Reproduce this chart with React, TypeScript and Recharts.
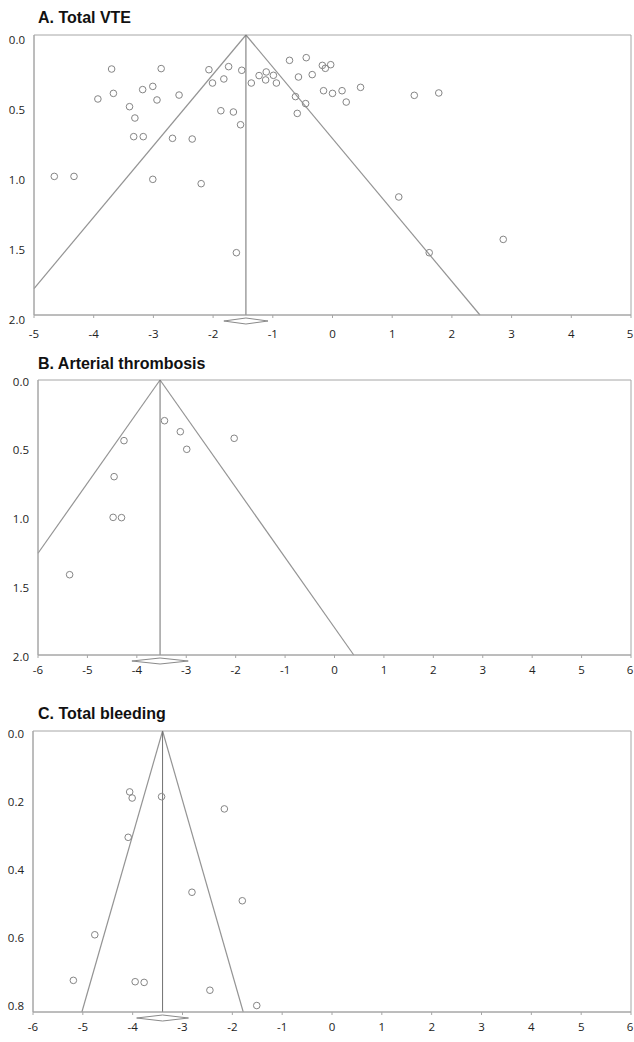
import React from "react";
import {
  ScatterChart,
  Scatter,
  XAxis,
  YAxis,
  ReferenceLine,
  ReferenceArea,
} from "recharts";

// ---- A. Total VTE: effect (log OR) and standard error per study ----
const vteEffect = [
  -4.66, -4.33, -3.93, -3.7, -3.67, -3.4, -3.31, -3.33, -3.17, -3.18, -3.01, -2.94,
  -2.87, -3.01, -2.57, -2.68, -2.35, -2.2, -2.07, -2.01, -1.87, -1.82, -1.74, -1.66,
  -1.61, -1.54, -1.52, -1.36, -1.23, -1.11, -1.12, -0.99, -0.94, -0.72, -0.57, -0.44,
  -0.34, -0.62, -0.45, -0.59, -0.17, -0.12, -0.03, -0.15, 0.0, 0.16, 0.47, 0.23,
  1.37, 1.78, 1.11, 1.62, 2.86,
];
const vteSE = [
  1.01, 1.01, 0.457, 0.243, 0.417, 0.512, 0.593, 0.726, 0.726, 0.39, 0.367, 0.464,
  0.24, 1.031, 0.429, 0.738, 0.743, 1.062, 0.248, 0.343, 0.541, 0.314, 0.226, 0.55,
  1.555, 0.641, 0.252, 0.343, 0.29, 0.264, 0.321, 0.288, 0.343, 0.181, 0.3, 0.162,
  0.283, 0.44, 0.49, 0.56, 0.217, 0.238, 0.212, 0.398, 0.417, 0.398, 0.374, 0.479,
  0.431, 0.414, 1.157, 1.555, 1.46,
];
const vtePooled = -1.45;
const vteCI = [-1.82, -1.08];
const vteXTicks = [-5, -4, -3, -2, -1, 0, 1, 2, 3, 4, 5];
const vteYTicks = [0, 0.5, 1, 1.5, 2];

// ---- B. Arterial thrombosis ----
const arterialEffect = [-3.44, -3.12, -2.99, -2.03, -4.26, -4.46, -4.48, -4.31, -5.36];
const arterialSE = [0.296, 0.376, 0.504, 0.424, 0.441, 0.703, 0.999, 1.001, 1.416];
const arterialPooled = -3.53;
const arterialCI = [-4.1, -2.96];
const arterialXTicks = [-6, -5, -4, -3, -2, -1, 0, 1, 2, 3, 4, 5, 6];
const arterialYTicks = [0, 0.5, 1, 1.5, 2];

// ---- C. Total bleeding ----
const bleedingEffect = [
  -4.06, -4.01, -3.42, -2.16, -4.09, -2.81, -1.8, -4.76, -5.19, -3.95, -3.77, -2.45, -1.51,
];
const bleedingSE = [
  0.179, 0.197, 0.193, 0.229, 0.3125, 0.474, 0.499, 0.599, 0.733, 0.737, 0.739, 0.762, 0.807,
];
const bleedingPooled = -3.4;
const bleedingCI = [-3.92, -2.88];
const bleedingXTicks = [-6, -5, -4, -3, -2, -1, 0, 1, 2, 3, 4, 5, 6];
const bleedingYTicks = [0, 0.2, 0.4, 0.6, 0.8];

const Z = 1.96;
const FONT = "'Open Sans', 'DejaVu Sans', sans-serif";

type Panel = {
  title: string;
  effect: number[];
  se: number[];
  pooled: number;
  ci: number[];
  xTicks: number[];
  yTicks: number[];
  seMax: number;
  yDigits: number;
  top: number;
  height: number;
  yAxisWidth: number;
  xLabelOffset: number;
  yLabelOffset: number;
};

const panels: Panel[] = [
  {
    title: "A. Total VTE",
    effect: vteEffect,
    se: vteSE,
    pooled: vtePooled,
    ci: vteCI,
    xTicks: vteXTicks,
    yTicks: vteYTicks,
    seMax: 2,
    yDigits: 1,
    top: 0,
    height: 345,
    yAxisWidth: 34,
    xLabelOffset: 15,
    yLabelOffset: 4,
  },
  {
    title: "B. Arterial thrombosis",
    effect: arterialEffect,
    se: arterialSE,
    pooled: arterialPooled,
    ci: arterialCI,
    xTicks: arterialXTicks,
    yTicks: arterialYTicks,
    seMax: 2,
    yDigits: 1,
    top: 345,
    height: 340,
    yAxisWidth: 38,
    xLabelOffset: 11,
    yLabelOffset: 1,
  },
  {
    title: "C. Total bleeding",
    effect: bleedingEffect,
    se: bleedingSE,
    pooled: bleedingPooled,
    ci: bleedingCI,
    xTicks: bleedingXTicks,
    yTicks: bleedingYTicks,
    seMax: 0.826,
    yDigits: 1,
    top: 696,
    height: 346,
    yAxisWidth: 33,
    xLabelOffset: 11,
    yLabelOffset: 2.5,
  },
];

// End point of one side of the 95% pseudo-confidence funnel, clipped to the x range
function funnelEnd(center: number, seMax: number, xMin: number, xMax: number, side: number) {
  const x = center + side * Z * seMax;
  if (x < xMin) return { x: xMin, y: (center - xMin) / Z };
  if (x > xMax) return { x: xMax, y: (xMax - center) / Z };
  return { x, y: seMax };
}

const Circle = (p: any) => (
  <circle cx={p.cx} cy={p.cy} r={3.3} fill="none" stroke="#858585" strokeWidth={1} />
);

const Diamond = (p: any) => {
  const { x, y, width } = p;
  const cy = y + 6;
  return (
    <polygon
      points={`${x},${cy} ${x + width / 2},${cy - 3} ${x + width},${cy} ${x + width / 2},${cy + 3}`}
      fill="#fff"
      stroke="#8a8a8a"
      strokeWidth={1}
    />
  );
};

function FunnelPanel({ panel }: { panel: Panel }) {
  const xMin = panel.xTicks[0];
  const xMax = panel.xTicks[panel.xTicks.length - 1];
  const data = panel.effect.map((x, i) => ({ x, y: panel.se[i] }));
  const left = funnelEnd(panel.pooled, panel.seMax, xMin, xMax, -1);
  const right = funnelEnd(panel.pooled, panel.seMax, xMin, xMax, 1);

  const xTick = (p: any) => (
    <text
      x={p.x}
      y={p.y + panel.xLabelOffset}
      textAnchor="middle"
      dominantBaseline="central"
      fontFamily={FONT}
      fontSize={11.5}
      fill="#222"
    >
      {String(p.payload.value)}
    </text>
  );
  const yTick = (p: any) => (
    <text
      x={p.x}
      y={p.y + panel.yLabelOffset}
      textAnchor="end"
      dominantBaseline="central"
      fontFamily={FONT}
      fontSize={11.5}
      fill="#222"
    >
      {Number(p.payload.value).toFixed(panel.yDigits)}
    </text>
  );

  return (
    <div style={{ position: "absolute", left: 0, top: panel.top }}>
      <ScatterChart
        width={634}
        height={panel.height}
        margin={{ top: 35, right: 3, bottom: 0, left: 0 }}
      >
        <XAxis
          type="number"
          dataKey="x"
          domain={[xMin, xMax]}
          ticks={panel.xTicks}
          allowDataOverflow
          height={30}
          stroke="#a6a6a6"
          tickSize={3}
          tickMargin={0}
          tick={xTick}
        />
        <YAxis
          type="number"
          dataKey="y"
          reversed
          domain={[0, panel.seMax]}
          ticks={panel.yTicks}
          allowDataOverflow
          width={panel.yAxisWidth}
          stroke="#a6a6a6"
          tickLine={false}
          tickSize={2}
          tickMargin={7}
          tick={yTick}
        />
        <ReferenceArea
          x1={xMin}
          x2={xMax}
          y1={0}
          y2={panel.seMax}
          fill="none"
          fillOpacity={0}
          stroke="#a6a6a6"
          strokeWidth={1}
        />
        <ReferenceLine
          segment={[
            { x: panel.pooled, y: 0 },
            { x: left.x, y: left.y },
          ]}
          stroke="#949494"
          strokeWidth={1.2}
        />
        <ReferenceLine
          segment={[
            { x: panel.pooled, y: 0 },
            { x: right.x, y: right.y },
          ]}
          stroke="#949494"
          strokeWidth={1.2}
        />
        <ReferenceLine
          segment={[
            { x: panel.pooled, y: 0 },
            { x: panel.pooled, y: panel.seMax },
          ]}
          stroke="#707070"
          strokeWidth={1}
        />
        <ReferenceArea
          x1={panel.ci[0]}
          x2={panel.ci[1]}
          y1={panel.seMax}
          y2={panel.seMax}
          shape={Diamond}
        />
        <Scatter data={data} shape={Circle} isAnimationActive={false} />
      </ScatterChart>
    </div>
  );
}

const titleTops = [9.75, 355.5, 705.5];

export default function App() {
  return (
    <div
      style={{
        position: "absolute",
        left: 0,
        top: 0,
        width: 634,
        height: 1042,
        background: "#fff",
        overflow: "hidden",
      }}
    >
      {panels.map((p) => (
        <FunnelPanel key={p.title} panel={p} />
      ))}
      {panels.map((p, i) => (
        <div
          key={"t" + p.title}
          style={{
            position: "absolute",
            left: 38,
            top: titleTops[i],
            fontFamily: "'Liberation Sans', Arial, sans-serif",
            fontWeight: "bold",
            fontSize: 16,
            lineHeight: "16px",
            color: "#111",
            whiteSpace: "nowrap",
          }}
        >
          {p.title}
        </div>
      ))}
    </div>
  );
}
